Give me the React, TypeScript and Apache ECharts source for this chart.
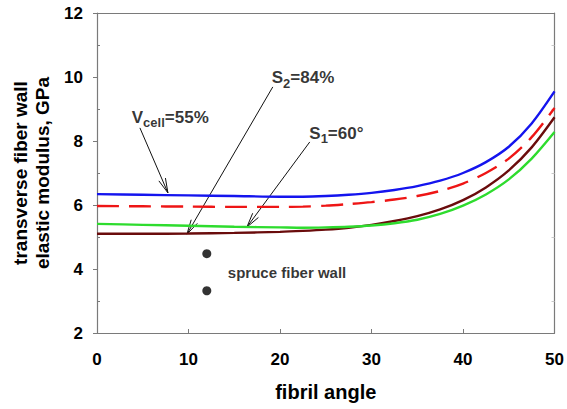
import React, { useEffect, useRef } from "react";
import * as echarts from "echarts";

const fibrilAngle = [0, 5, 10, 15, 20, 22.5, 25, 27.5, 30, 32.5, 35, 37.5, 40, 42.5, 45, 47.5, 50];
const blueVcell = [6.34, 6.32, 6.30, 6.28, 6.26, 6.26, 6.28, 6.32, 6.38, 6.47, 6.59, 6.76, 7.00, 7.34, 7.82, 8.55, 9.55];
const redDashed = [5.97, 5.96, 5.95, 5.94, 5.94, 5.95, 5.98, 6.03, 6.09, 6.17, 6.28, 6.44, 6.67, 7.00, 7.45, 8.12, 9.03];
const brownS2 = [5.10, 5.10, 5.11, 5.13, 5.16, 5.19, 5.23, 5.29, 5.38, 5.50, 5.65, 5.86, 6.15, 6.55, 7.08, 7.80, 8.74];
const greenS1 = [5.41, 5.38, 5.35, 5.32, 5.30, 5.29, 5.30, 5.32, 5.36, 5.43, 5.54, 5.72, 5.98, 6.33, 6.80, 7.45, 8.28];

const spruceX = [12, 12];
const spruceY = [4.48, 3.32];

// annotation arrows: [x1, y1, x2, y2] in data units
const arrows = [
  [4.69, 8.41, 7.75, 6.38],
  [19.21, 9.69, 9.83, 5.09],
  [23.25, 7.97, 16.38, 5.31],
];

// annotation labels: [x, y, text]
const labelPos: [number, number, string][] = [
  [3.8, 8.75, "{m|V}{s|cell}{m|=55%}"],
  [19.1, 9.97, "{m|S}{s|2}{m|=84%}"],
  [23.2, 8.25, "{m|S}{s|1}{m|=60°}"],
  [14.3, 3.88, "{t|spruce fiber wall}"],
];

const FONT = "Liberation Sans, Arial, sans-serif";

export default function App() {
  const ref = useRef<HTMLDivElement>(null);
  useEffect(() => {
    document.body.style.margin = "0";
    const chart = echarts.init(ref.current!, null, { renderer: "svg" });
    const toPairs = (ys: number[]) => fibrilAngle.map((x, i) => [x, ys[i]]);
    const axisColor = "#7a7a7a";
    chart.setOption({
      animation: false,
      backgroundColor: "#fff",
      textStyle: { fontFamily: FONT },
      grid: { left: 97, right: 12, top: 13, bottom: 76, containLabel: false },
      xAxis: [
        {
          type: "value",
          position: "bottom",
          min: 0,
          max: 50,
          interval: 10,
          splitLine: { show: false },
          axisLine: { lineStyle: { color: axisColor, width: 1.2 } },
          axisTick: { inside: true, length: 4, lineStyle: { color: axisColor } },
          axisLabel: { color: "#000", fontSize: 17, fontWeight: "bold", fontFamily: FONT, margin: 18 },
          name: "fibril angle",
          nameLocation: "middle",
          nameGap: 49,
          nameTextStyle: { color: "#000", fontSize: 20, fontWeight: "bold", fontFamily: FONT },
        },
        {
          type: "value",
          position: "top",
          min: 0,
          max: 50,
          interval: 10,
          splitLine: { show: false },
          axisLine: { show: true, lineStyle: { color: axisColor, width: 1.2 } },
          axisTick: { show: false },
          axisLabel: { show: false },
        },
      ],
      yAxis: [
        {
          type: "value",
          position: "left",
          min: 2,
          max: 12,
          interval: 2,
          splitLine: { show: false },
          axisLine: { lineStyle: { color: axisColor, width: 1.2 } },
          axisTick: { inside: false, length: 4, lineStyle: { color: axisColor } },
          axisLabel: { color: "#000", fontSize: 17, fontWeight: "bold", fontFamily: FONT, margin: 14 },
          name: "transverse fiber wall\nelastic modulus, GPa",
          nameLocation: "middle",
          nameRotate: 90,
          nameGap: 39,
          nameTextStyle: { color: "#000", fontSize: 19, fontWeight: "bold", fontFamily: FONT, lineHeight: 22 },
        },
        {
          type: "value",
          position: "left",
          min: 2,
          max: 12,
          interval: 2,
          splitLine: { show: false },
          axisLine: { show: false },
          axisTick: { show: false, inside: true },
          minorTick: { show: true, splitNumber: 2, length: 3, lineStyle: { color: axisColor } },
          axisLabel: { show: false },
        },
        {
          type: "value",
          position: "right",
          min: 2,
          max: 12,
          interval: 2,
          splitLine: { show: false },
          axisLine: { show: true, lineStyle: { color: axisColor, width: 1.2 } },
          axisTick: { show: false, inside: true },
          minorTick: { show: true, splitNumber: 2, length: 3, lineStyle: { color: "#c8c8c8" } },
          axisLabel: { show: false },
        },
      ],
      series: [
        {
          type: "line",
          data: toPairs(blueVcell),
          smooth: 0.3,
          showSymbol: false,
          lineStyle: { color: "#1414ee", width: 2.4 },
        },
        {
          type: "line",
          data: toPairs(redDashed),
          smooth: 0.3,
          showSymbol: false,
          lineStyle: { color: "#ee1515", width: 2.4, type: [22, 10] },
        },
        {
          type: "line",
          data: toPairs(brownS2),
          smooth: 0.3,
          showSymbol: false,
          lineStyle: { color: "#6a0c0c", width: 2.4 },
        },
        {
          type: "line",
          data: toPairs(greenS1),
          smooth: 0.3,
          showSymbol: false,
          lineStyle: { color: "#2edc2e", width: 2.4 },
        },
        {
          type: "scatter",
          data: spruceX.map((x, i) => [x, spruceY[i]]),
          symbolSize: 9,
          itemStyle: { color: "#000" },
        },
        {
          type: "custom",
          data: arrows,
          clip: false,
          renderItem: (params: any, api: any) => {
            const p1 = api.coord([api.value(0), api.value(1)]);
            const p2 = api.coord([api.value(2), api.value(3)]);
            const ang = Math.atan2(p2[1] - p1[1], p2[0] - p1[0]);
            const L = 15;
            const a = 0.24;
            const h1 = [p2[0] - L * Math.cos(ang - a), p2[1] - L * Math.sin(ang - a)];
            const h2 = [p2[0] - L * Math.cos(ang + a), p2[1] - L * Math.sin(ang + a)];
            return {
              type: "group",
              children: [
                {
                  type: "line",
                  shape: { x1: p1[0], y1: p1[1], x2: p2[0], y2: p2[1] },
                  style: { stroke: "#111", lineWidth: 1 },
                },
                {
                  type: "polyline",
                  shape: { points: [h1, p2, h2] },
                  style: { stroke: "#111", fill: "none", lineWidth: 1 },
                },
              ],
            };
          },
        },
        {
          type: "scatter",
          data: labelPos.map((d) => ({ value: [d[0], d[1]], label: { formatter: d[2] } })),
          symbolSize: 0,
          itemStyle: { color: "transparent" },
          label: {
            show: true,
            position: "right",
            distance: 0,
            rich: {
              m: { fontSize: 17, fontWeight: "bold", color: "#000", fontFamily: FONT, lineHeight: 24 },
              s: { fontSize: 13, fontWeight: "bold", color: "#000", fontFamily: FONT, lineHeight: 24, verticalAlign: "bottom" },
              t: { fontSize: 15, fontWeight: "bold", color: "#000", fontFamily: FONT },
            },
          },
        },
      ],
    });
    return () => chart.dispose();
  }, []);
  return <div ref={ref} style={{ width: 567, height: 409 }} />;
}
